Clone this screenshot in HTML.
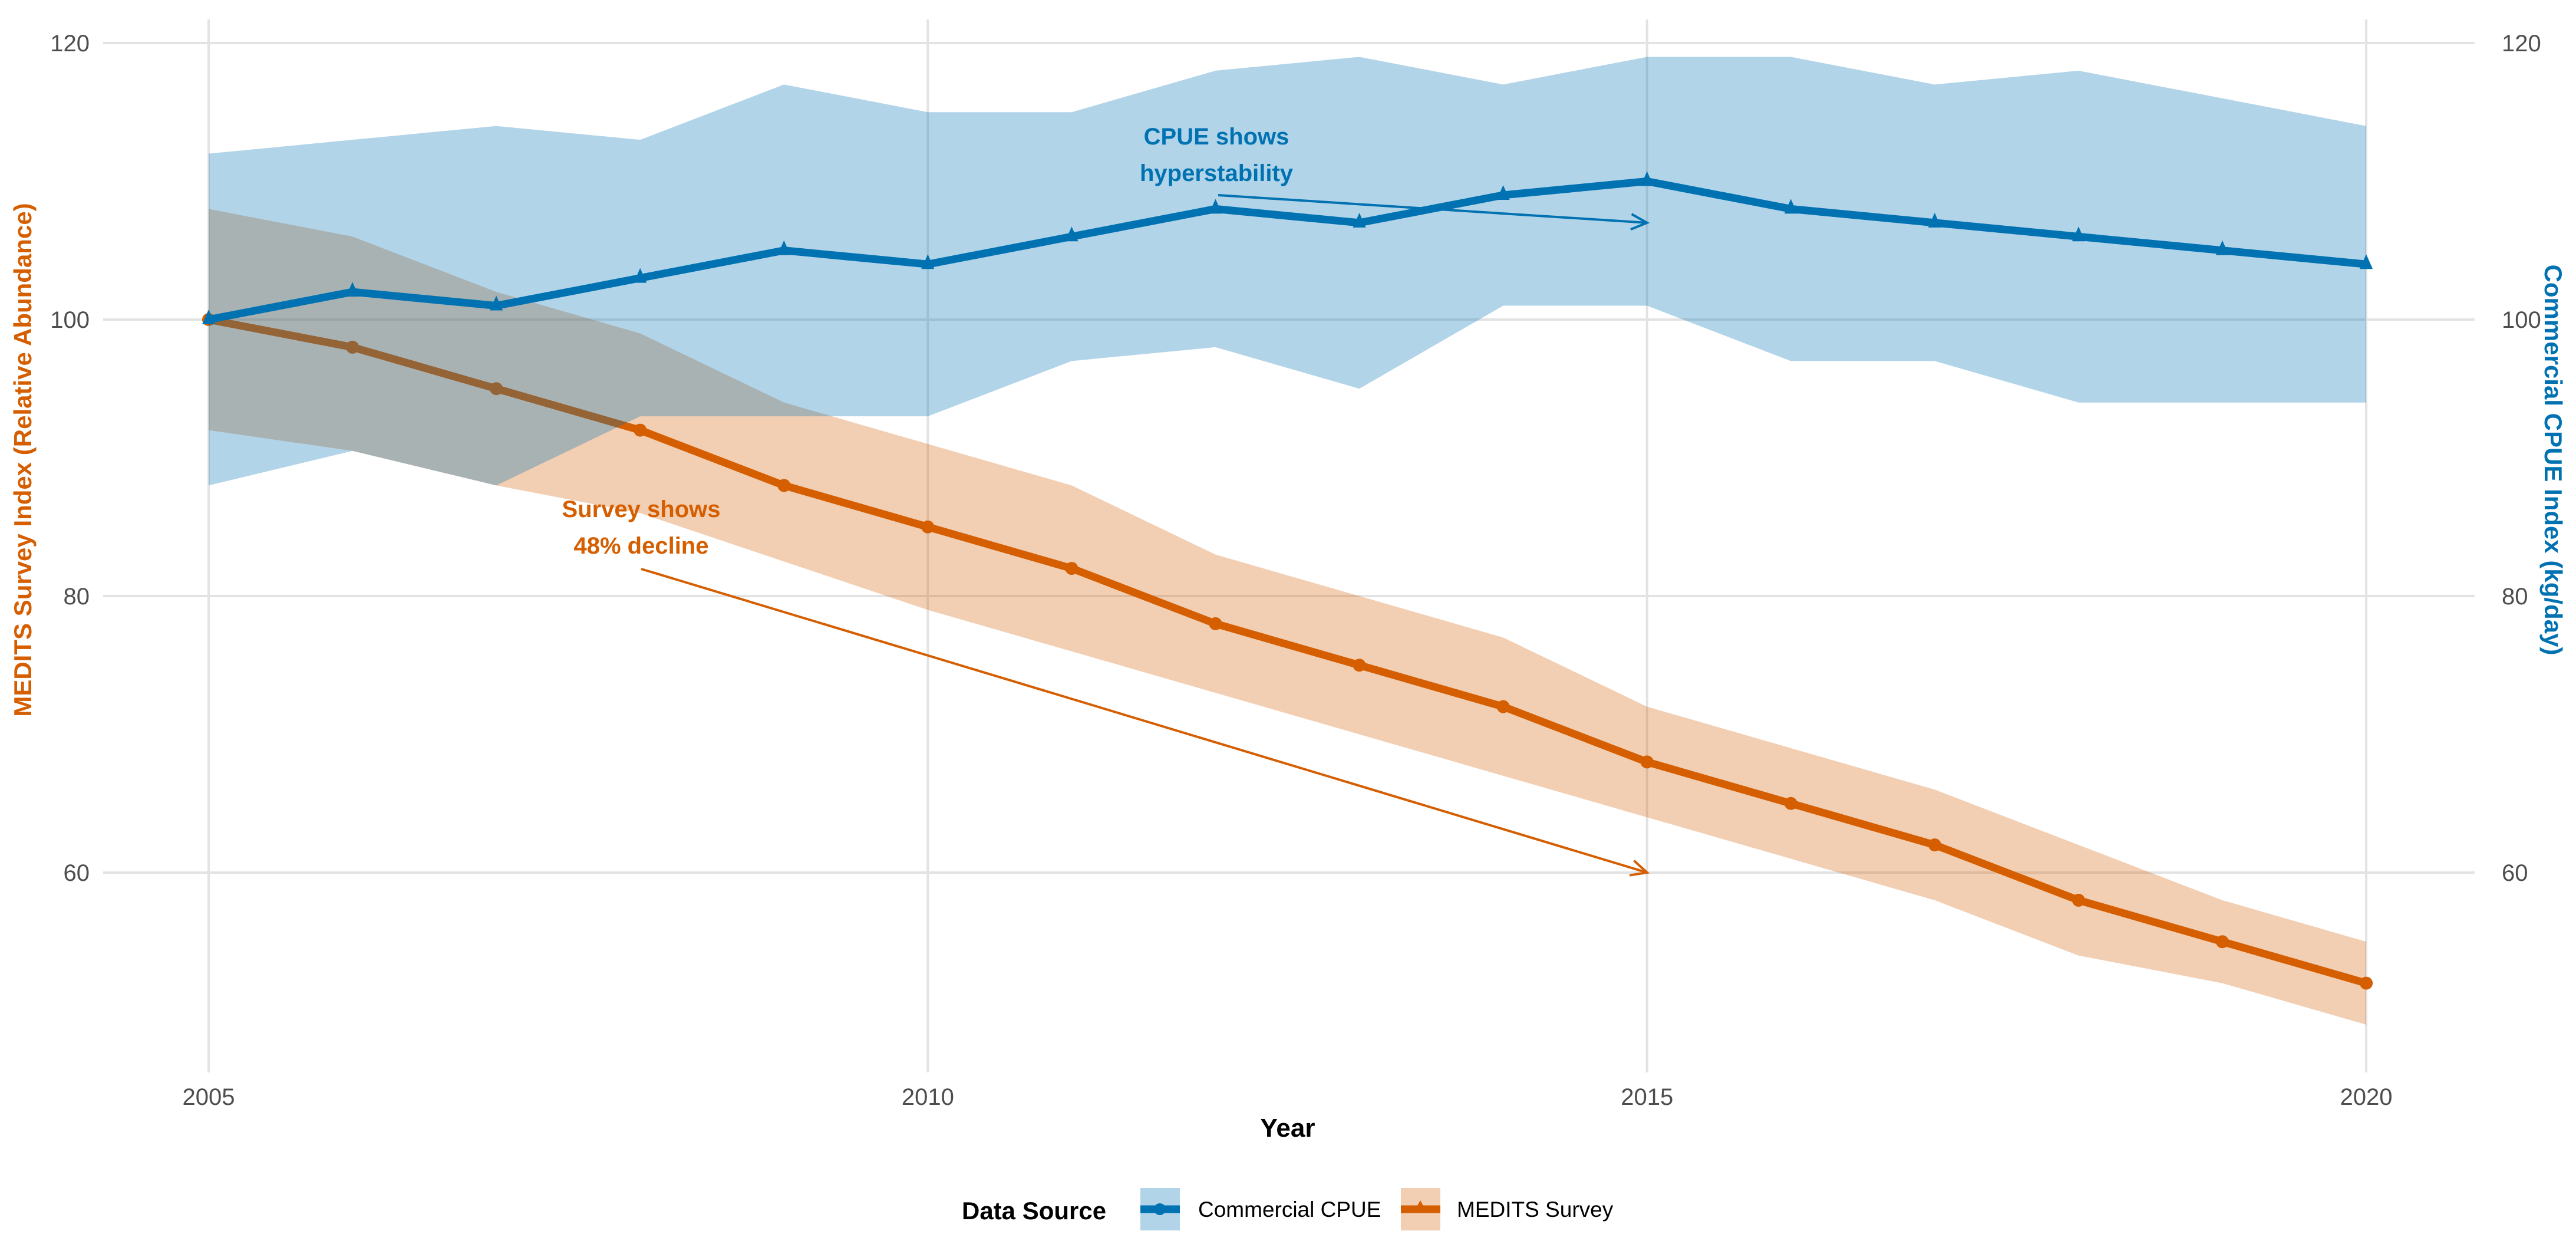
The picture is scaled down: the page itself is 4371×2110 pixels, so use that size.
<!DOCTYPE html>
<html><head><meta charset="utf-8"><style>
html,body{margin:0;padding:0;background:#fff;}
svg{display:block;font-family:"Liberation Sans",Arial,sans-serif;}
</style></head><body>
<svg id="chart" width="4371" height="2110" viewBox="0 0 4371 2110">
<g id="grid"></g>
<g id="marks"></g>
<g id="axes"></g>
<text x="53" y="780" transform="rotate(-90 53 780)" text-anchor="middle" font-size="42" font-weight="bold" fill="#D55E00">MEDITS Survey Index (Relative Abundance)</text>
<text x="4318" y="780" transform="rotate(90 4318 780)" text-anchor="middle" font-size="42" font-weight="bold" fill="#0072B2">Commercial CPUE Index (kg/day)</text>
<text x="2185" y="1928" text-anchor="middle" font-size="44" font-weight="bold" fill="#000">Year</text>
<g>
<text x="2064" y="245" text-anchor="middle" font-size="40" font-weight="bold" fill="#0072B2">CPUE shows</text>
<text x="2064" y="307" text-anchor="middle" font-size="40" font-weight="bold" fill="#0072B2">hyperstability</text>
</g>
<g>
<text x="1088" y="877" text-anchor="middle" font-size="40" font-weight="bold" fill="#D55E00">Survey shows</text>
<text x="1088" y="939" text-anchor="middle" font-size="40" font-weight="bold" fill="#D55E00">48% decline</text>
</g>
<g>
<text x="1632" y="2068" font-size="42" font-weight="bold" fill="#000">Data Source</text>
<g>
<rect x="1935" y="2015" width="67" height="72" fill="#0072B2" fill-opacity="0.3"/>
<line x1="1935" y1="2051" x2="2002" y2="2051" stroke="#0072B2" stroke-width="13"/>
<circle cx="1968" cy="2051" r="10" fill="#0072B2"/>
<text x="2033" y="2064" font-size="37" fill="#000">Commercial CPUE</text>
</g>
<g>
<rect x="2377" y="2015" width="67" height="72" fill="#D55E00" fill-opacity="0.3"/>
<line x1="2377" y1="2051" x2="2444" y2="2051" stroke="#D55E00" stroke-width="13"/>
<polygon points="2410,2036 2399,2056 2421,2056" fill="#D55E00"/>
<text x="2472" y="2064" font-size="37" fill="#000">MEDITS Survey</text>
</g>
</g>
</svg>
<script>
const years = [2005,2006,2007,2008,2009,2010,2011,2012,2013,2014,2015,2016,2017,2018,2019,2020];
const cpue = [100,102,101,103,105,104,106,108,107,109,110,108,107,106,105,104];
const cpueUpper = [112,113,114,113,117,115,115,118,119,117,119,119,117,118,116,114];
const cpueLower = [88,90.5,88,93,93,93,97,98,95,101,101,97,97,94,94,94];
const survey = [100,98,95,92,88,85,82,78,75,72,68,65,62,58,55,52];
const surveyUpper = [108,106,102,99,94,91,88,83,80,77,72,69,66,62,58,55];
const surveyLower = [92,90.5,88,86,82.5,79,76,73,70,67,64,61,58,54,52,49];
const yTicks = [60,80,100,120];
const xTicks = [2005,2010,2015,2020];

const NS='http://www.w3.org/2000/svg';
const X0=354, XPER=244.07, Y100=542, YPU=23.45;
function xs(v){return X0+(v-2005)*XPER;}
function ys(v){return Y100-(v-100)*YPU;}
function mk(tag,attrs,parent){const e=document.createElementNS(NS,tag);for(const k in attrs)e.setAttribute(k,attrs[k]);parent.appendChild(e);return e;}
const grid=document.getElementById('grid'), marks=document.getElementById('marks'), axes=document.getElementById('axes');

yTicks.forEach(t=>{
  const l=mk('line',{x1:175,x2:4199,y1:ys(t),y2:ys(t),stroke:'#e3e3e3','stroke-width':4},grid);
  
  
  const a=mk('text',{x:152,y:ys(t)+14,'text-anchor':'end','font-size':40,fill:'#4d4d4d'},axes);
  a.textContent=t;
  
  
  const b=mk('text',{x:4245,y:ys(t)+14,'text-anchor':'start','font-size':40,fill:'#4d4d4d'},axes);
  b.textContent=t;
  
  
});
xTicks.forEach(t=>{
  const l=mk('line',{x1:xs(t),x2:xs(t),y1:33,y2:1819,stroke:'#e3e3e3','stroke-width':4},grid);
  
  
  const a=mk('text',{x:xs(t),y:1874,'text-anchor':'middle','font-size':40,fill:'#4d4d4d'},axes);
  a.textContent=t;
  
  
});

function ribbon(up,lo,color,name){
  let d='';
  years.forEach((y,i)=>{d+=(i?'L':'M')+xs(y)+','+ys(up[i]);});
  for(let i=years.length-1;i>=0;i--)d+='L'+xs(years[i])+','+ys(lo[i]);
  const p=mk('path',{d:d+'Z',fill:color,'fill-opacity':0.3},marks);
  
  
}
function line(vals,color,name){
  const pts=years.map((y,i)=>xs(y)+','+ys(vals[i])).join(' ');
  const p=mk('polyline',{points:pts,fill:'none',stroke:color,'stroke-width':13,'stroke-linejoin':'round'},marks);
  
  
}
ribbon(surveyUpper,surveyLower,'#D55E00','survey-ribbon');
line(survey,'#D55E00','survey-line');
years.forEach((y,i)=>{
  const c=mk('circle',{cx:xs(y),cy:ys(survey[i]),r:11,fill:'#D55E00'},marks);
  
  
});
ribbon(cpueUpper,cpueLower,'#0072B2','cpue-ribbon');
line(cpue,'#0072B2','cpue-line');
years.forEach((y,i)=>{
  const x=xs(y),yy=ys(cpue[i]);
  const t=mk('polygon',{points:(x)+','+(yy-17)+' '+(x-11)+','+(yy+8)+' '+(x+11)+','+(yy+8),fill:'#0072B2'},marks);
  
  
});

function arrow(x1,y1,x2,y2,color,name){
  const g=mk('g',{},marks);
  
  
  mk('line',{x1:x1,y1:y1,x2:x2,y2:y2,stroke:color,'stroke-width':4},g);
  const ang=Math.atan2(y2-y1,x2-x1),L=30,sp=0.45;
  const pa=x2-L*Math.cos(ang-sp), pb=y2-L*Math.sin(ang-sp), pc=x2-L*Math.cos(ang+sp), pd=y2-L*Math.sin(ang+sp);
  mk('polyline',{points:pa+','+pb+' '+x2+','+y2+' '+pc+','+pd,fill:'none',stroke:color,'stroke-width':4},g);
}
arrow(2067,331,xs(2015),ys(107),'#0072B2','cpue-annotation-arrow');
arrow(1088,965,xs(2015),ys(60),'#D55E00','survey-annotation-arrow');
</script>
</body></html>
